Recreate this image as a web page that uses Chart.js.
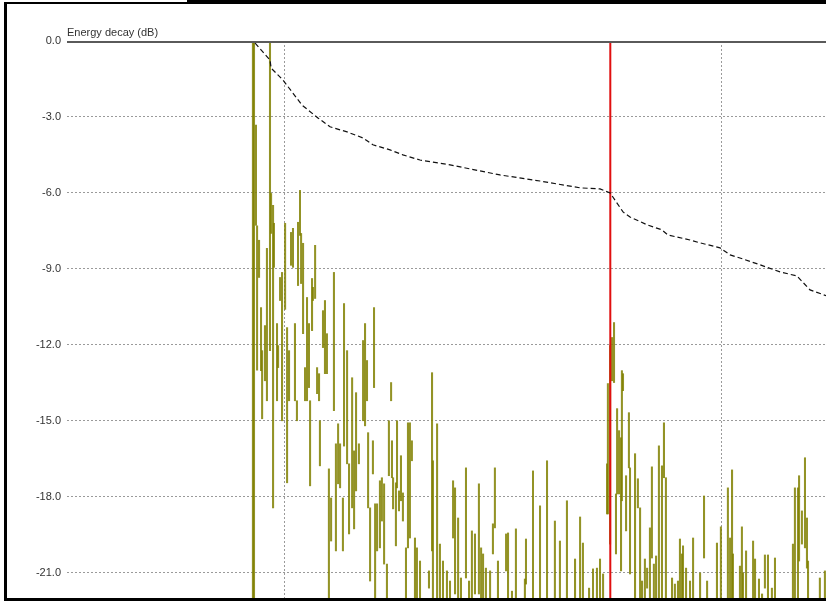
<!DOCTYPE html>
<html>
<head>
<meta charset="utf-8">
<script src="https://cdn.jsdelivr.net/npm/chart.js"></script>
<style>
  html, body { margin: 0; padding: 0; background: #fff; overflow: hidden; }
  #wrap { position: relative; width: 826px; height: 601px; }
  #frame { position: absolute; left: 4px; top: 2px; width: 1000px; height: 594px;
           border-top: 2px solid #000; border-left: 3px solid #000; border-bottom: 3px solid #000;
           pointer-events: none; }
  #frameTop { position: absolute; left: 187px; top: 0; width: 700px; height: 3px; background: #000; }
</style>
</head>
<body>
<div id="wrap">
  <canvas id="decayChart" width="826" height="601"></canvas>
  <div id="frame"></div>
  <div id="frameTop"></div>
</div>
<script>
// time axis (ms) and level axis (dB)
const xGridLines = [20, 40];
const yTickValues = [-21, -18, -15, -12, -9, -6, -3, 0];

// energy decay curve
const decayTime = [18.68, 19.36, 19.41, 19.95, 20.82, 21.55, 22.10, 22.88, 23.61, 24.06, 24.84, 25.43,
  26.21, 27.58, 29.86, 31.69, 33.52, 34.43, 34.89, 35.48, 35.80, 36.58, 37.26, 37.53, 38.54, 38.99,
  39.91, 40.37, 40.82, 41.74, 42.65, 43.42, 44.02, 44.79];
const decayDb = [-0.08, -0.75, -1.07, -1.54, -2.53, -3.04, -3.39, -3.59, -3.83, -4.10, -4.30, -4.50,
  -4.70, -4.89, -5.29, -5.53, -5.80, -5.84, -6.00, -6.75, -6.95, -7.26, -7.46, -7.66, -7.86, -7.97,
  -8.17, -8.45, -8.57, -8.84, -9.12, -9.28, -9.83, -10.07];

// reflection marker
const markerTime = 34.9;

// impulse response: each column goes from spikeLow to spikeHigh
const spikeTime = [18.58, 18.63, 18.72, 18.77, 18.86, 18.95, 19.00, 19.13, 19.22, 19.36, 19.41, 19.50,
  19.54, 19.68, 19.73, 19.82, 19.91, 20.05, 20.14, 20.23, 20.32, 20.41, 20.50, 20.59, 20.64, 20.73,
  20.78, 20.87, 20.96, 21.05, 21.14, 21.19, 21.28, 21.32, 21.42, 21.51, 21.60, 21.64, 21.78, 21.87,
  21.96, 22.05, 22.15, 22.28, 22.37, 22.47, 22.56, 22.69, 22.74, 22.88, 22.97, 23.11, 23.20, 23.29,
  23.42, 23.61, 23.70, 23.79, 23.84, 23.93, 24.06, 24.11, 24.16, 24.25, 24.38, 24.47, 24.57, 24.70,
  24.79, 24.89, 24.93, 24.98, 25.11, 25.16, 25.25, 25.34, 25.43, 25.57, 25.66, 25.75, 25.84, 25.98,
  26.07, 26.21, 26.62, 26.76, 26.80, 26.99, 27.12, 27.26, 27.44, 27.58, 27.72, 27.81, 27.95, 28.08,
  28.31, 28.45, 28.58, 28.72, 28.90, 29.00, 29.09, 29.22, 29.41, 29.54, 29.63, 29.77, 30.14, 30.23,
  30.41, 30.59, 31.00, 31.05, 31.37, 31.69, 32.01, 32.37, 32.60, 32.92, 33.29, 33.52, 33.65, 33.93,
  34.11, 34.29, 34.43, 34.57, 34.75, 34.79, 34.89, 34.98, 35.07, 35.16, 35.21, 35.30, 35.39, 35.43,
  35.48, 35.62, 35.75, 35.80, 36.03, 36.16, 36.26, 36.35, 36.48, 36.58, 36.71, 36.80, 36.89, 36.99,
  37.12, 37.26, 37.35, 37.44, 37.72, 37.85, 37.99, 38.08, 38.17, 38.22, 38.36, 38.54, 38.68, 39.00,
  39.18, 39.32, 39.77, 39.95, 40.27, 40.37, 40.46, 40.50, 40.82, 40.91, 40.96, 41.10, 41.42, 41.51,
  41.69, 41.83, 41.96, 42.10, 42.28, 42.42, 43.24, 43.33, 43.47, 43.52, 43.65, 43.79, 43.88, 43.93,
  44.47, 44.70];
const spikeLow = [-23, -23, -7.28, -13.0, -9.34, -13.02, -14.92, -13.42, -14.21, -12.23, -7.60, -18.44,
  -8.94, -14.21, -12.90, -10.25, -15.0, -10.6, -17.45, -14.21, -8.86, -8.94, -14.21, -15.0, -9.66, -7.68,
  -9.58, -11.56, -14.21, -14.21, -13.69, -17.57, -11.44, -10.25, -10.17, -13.93, -14.21, -16.78, -12.11, -13.14,
  -13.14, -23, -19.75, -14.6, -20.14, -17.49, -17.65, -20.14, -16.0, -16.70, -19.47, -18.44, -19.27, -17.77,
  -16.70, -15.0, -15.2, -14.21, -18.44, -21.33, -17.10, -13.69, -23, -20.14, -20.02, -18.96, -20.66, -23,
  -17.17, -14.21, -17.25, -18.48, -19.94, -17.65, -18.56, -18.16, -18.96, -23, -20.02, -19.63, -16.58, -23,
  -23, -23, -21.61, -20.14, -23, -23, -23, -23, -23, -23, -19.63, -21.84, -23, -23,
  -21.21, -23, -23, -21.84, -21.84, -23, -23, -23, -23, -20.26, -19.23, -23, -20.93, -23,
  -23, -23, -23, -21.45, -23, -23, -23, -23, -23, -23, -23, -23, -23, -23,
  -23, -23, -23, -23, -18.68, -18.68, -19.87, -13.42, -13.49, -20.26, -17.89, -17.89, -20.93, -18.16,
  -13.81, -19.35, -16.86, -21.05, -23, -18.44, -23, -23, -23, -21.61, -23, -20.42, -23, -23,
  -23, -23, -17.25, -23, -23, -23, -23, -23, -23, -23, -23, -23, -23, -23,
  -20.42, -23, -23, -23, -23, -23, -23, -23, -23, -23, -23, -23, -23, -23,
  -23, -23, -21.61, -23, -23, -23, -23, -23, -23, -20.54, -19.87, -20.02, -20.82, -23,
  -23, -23];
const spikeHigh = [0.5, 0.5, -3.32, -7.3, -7.87, -10.53, -12.23, -11.24, -8.19, 0.5, -6.02, -6.49,
  -7.20, -11.16, -12.03, -9.34, -9.14, -7.2, -11.32, -12.23, -7.56, -7.40, -11.16, -14.21, -7.16, -5.90,
  -7.60, -7.99, -12.90, -10.13, -11.16, -14.21, -9.38, -9.73, -8.07, -12.90, -13.14, -15.0, -10.65, -10.25,
  -11.56, -16.90, -18.05, -9.14, -15.91, -15.12, -15.91, -18.05, -10.37, -12.23, -16.70, -13.30, -16.19, -13.89,
  -15.91, -11.83, -11.16, -12.62, -15.47, -18.44, -15.79, -10.53, -18.28, -18.28, -17.37, -17.25, -17.49, -20.66,
  -15.0, -13.49, -15.79, -17.25, -17.45, -15.0, -17.77, -16.38, -17.85, -20.02, -15.08, -15.08, -15.79, -19.63,
  -20.02, -20.54, -20.93, -13.10, -16.58, -15.12, -19.87, -20.54, -20.93, -21.33, -17.37, -17.65, -18.84, -21.21,
  -16.86, -21.33, -19.35, -19.47, -17.49, -20.02, -20.26, -20.82, -20.93, -19.07, -16.86, -20.54, -19.47, -19.43,
  -21.73, -19.27, -21.25, -19.67, -16.98, -18.36, -16.58, -18.96, -19.75, -18.16, -20.46, -18.80, -19.83, -21.61,
  -20.85, -20.82, -20.46, -21.05, -16.70, -13.53, -12.03, -11.71, -11.12, -17.89, -14.52, -15.39, -15.67, -13.02,
  -13.14, -17.17, -14.68, -16.86, -16.30, -17.29, -18.44, -21.33, -20.46, -20.82, -19.23, -16.82, -20.66, -20.34,
  -15.99, -16.78, -15.08, -17.25, -21.21, -21.45, -21.33, -19.67, -20.26, -19.94, -20.82, -21.33, -19.63, -21.01,
  -17.97, -21.33, -19.83, -19.19, -17.65, -19.63, -16.94, -20.26, -20.74, -19.19, -21.01, -20.14, -19.75, -20.46,
  -21.25, -21.84, -20.30, -20.30, -21.61, -20.42, -19.87, -17.65, -17.65, -17.17, -18.56, -16.46, -18.84, -20.54,
  -21.21, -20.93];

const ctx = document.getElementById("decayChart").getContext("2d");

// title above the plot and the solid 0 dB line
const framePlugin = {
  id: 'framePlugin',
  afterDraw(chart) {
    const a = chart.chartArea;
    const c = chart.ctx;
    c.save();
    c.fillStyle = '#5a5a5a';
    c.fillRect(a.left, a.top, a.right - a.left, 2);
    c.fillStyle = '#333';
    c.font = "11px 'Liberation Sans', Arial, sans-serif";
    c.textBaseline = 'alphabetic';
    c.textAlign = 'left';
    c.fillText('Energy decay (dB)', a.left, a.top - 5);
    c.restore();
  }
};

new Chart(ctx, {
  data: {
    datasets: [
      {
        type: 'line',
        data: decayTime.map((t, i) => ({ x: t, y: decayDb[i] })),
        borderColor: '#111',
        borderWidth: 1.2,
        borderDash: [5, 3],
        pointRadius: 0,
        tension: 0,
        order: 1
      },
      {
        type: 'line',
        data: [{ x: markerTime, y: 1 }, { x: markerTime, y: -23 }],
        borderColor: '#e01010',
        borderWidth: 2,
        pointRadius: 0,
        order: 2
      },
      {
        type: 'bar',
        data: spikeTime.map((t, i) => ({ x: t, y: [spikeLow[i], spikeHigh[i]] })),
        backgroundColor: 'rgba(128,128,0,0.85)',
        barThickness: 1.4,
        order: 3
      }
    ]
  },
  options: {
    responsive: false,
    animation: false,
    layout: { padding: { top: 41, bottom: 3, left: 0, right: 0 } },
    plugins: { legend: { display: false }, tooltip: { enabled: false } },
    scales: {
      x: {
        type: 'linear',
        min: 10.09,
        max: 44.75,
        offset: false,
        afterBuildTicks: s => { s.ticks = xGridLines.map(v => ({ value: v })); },
        afterFit: s => { s.height = 0; s.paddingLeft = 0; s.paddingRight = 0; },
        ticks: { display: false },
        grid: { color: '#9a9a9a', drawTicks: false, offset: false },
        border: { display: false, dash: [2, 2] }
      },
      y: {
        min: -22,
        max: 0,
        afterBuildTicks: s => { s.ticks = yTickValues.map(v => ({ value: v })); },
        afterFit: s => { s.width = 67; s.paddingTop = 0; s.paddingBottom = 0; },
        ticks: {
          padding: 6,
          color: '#333',
          font: { family: "'Liberation Sans', Arial, sans-serif", size: 11 },
          callback: v => v.toFixed(1)
        },
        grid: { color: '#9a9a9a', drawTicks: false },
        border: { display: false, dash: [2, 2] }
      }
    }
  },
  plugins: [framePlugin]
});
</script>
</body>
</html>
